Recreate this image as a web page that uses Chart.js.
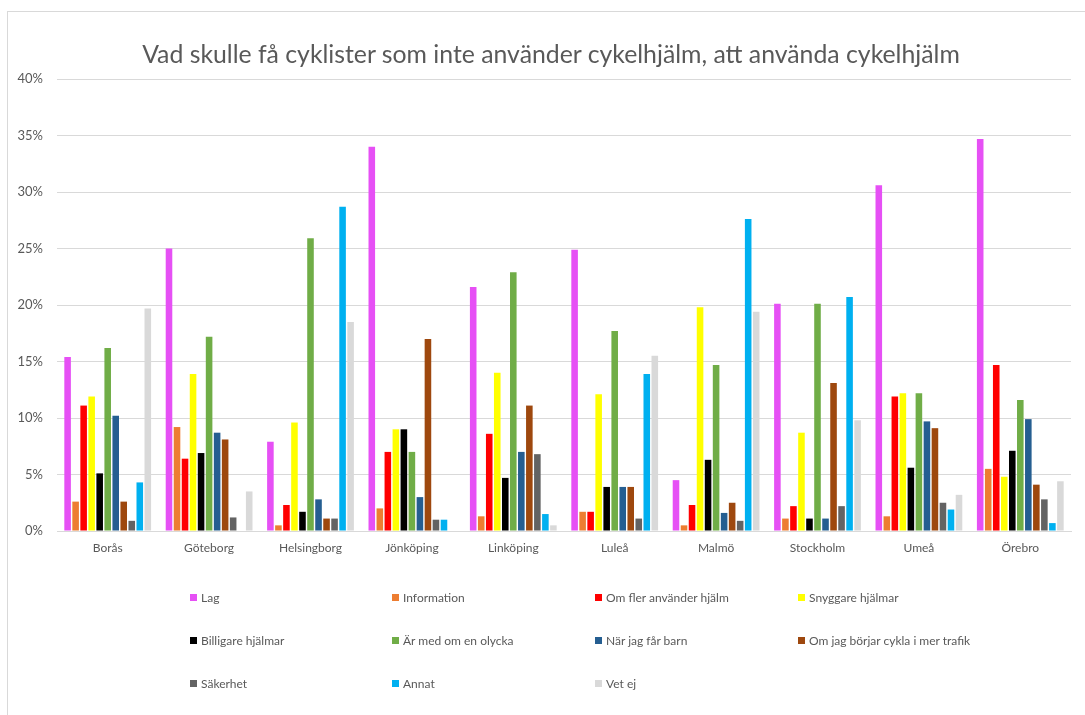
<!DOCTYPE html>
<html>
<head>
<meta charset="utf-8">
<script src="https://cdn.jsdelivr.net/npm/chart.js@4/dist/chart.umd.min.js"></script>
<style>
  html, body { margin: 0; padding: 0; background: #fff; }
  #wrap { position: relative; width: 1085px; height: 715px; overflow: hidden; }
  #frame { position: absolute; left: 7px; top: 11px; width: 1090px; height: 720px;
           border-top: 1px solid #d9d9d9; border-left: 1px solid #d9d9d9; }
  #c { position: absolute; left: 0; top: 0; }
  #title { position: absolute; left: 0; top: 39px; width: 1102px; text-align: center;
           font-family: Lato, "Liberation Sans", sans-serif; font-size: 24.8px; line-height: 30px;
           color: #595959; white-space: nowrap; }
  #legend { position: absolute; left: 0; top: 0; width: 1085px; height: 715px; pointer-events: none;
            font-family: Lato, "Liberation Sans", sans-serif; font-size: 12px; color: #595959; }
  .li { position: absolute; white-space: nowrap; display: flex; align-items: center; height: 14px; }
  .sw { width: 7px; height: 7px; margin-right: 4px; display: inline-block; }
</style>
</head>
<body>
<div id="wrap">
  <div id="frame"></div>
  <canvas id="c" width="1085" height="715"></canvas>
  <div id="title"></div>
  <div id="legend"></div>
</div>
<script>
const titleText = "Vad skulle få cyklister som inte använder cykelhjälm, att använda cykelhjälm";
const cities = ["Borås", "Göteborg", "Helsingborg", "Jönköping", "Linköping", "Luleå", "Malmö", "Stockholm", "Umeå", "Örebro"];
const yTicks = [0, 5, 10, 15, 20, 25, 30, 35, 40];

const seriesNames = ["Lag", "Information", "Om fler använder hjälm", "Snyggare hjälmar",
  "Billigare hjälmar", "Är med om en olycka", "När jag får barn", "Om jag börjar cykla i mer trafik",
  "Säkerhet", "Annat", "Vet ej"];
const seriesColors = ["#E650F5", "#ED7D31", "#FF0000", "#FFFF00", "#000000", "#70AD47",
  "#255E91", "#9E480E", "#636363", "#00B0F0", "#D9D9D9"];

// values per series, in city order
const lag          = [15.4, 25.0, 7.9, 34.0, 21.6, 24.9, 4.5, 20.1, 30.6, 34.7];
const information  = [2.6, 9.2, 0.5, 2.0, 1.3, 1.7, 0.5, 1.1, 1.3, 5.5];
const omFler       = [11.1, 6.4, 2.3, 7.0, 8.6, 1.7, 2.3, 2.2, 11.9, 14.7];
const snyggare     = [11.9, 13.9, 9.6, 9.0, 14.0, 12.1, 19.8, 8.7, 12.2, 4.8];
const billigare    = [5.1, 6.9, 1.7, 9.0, 4.7, 3.9, 6.3, 1.1, 5.6, 7.1];
const arMed        = [16.2, 17.2, 25.9, 7.0, 22.9, 17.7, 14.7, 20.1, 12.2, 11.6];
const narBarn      = [10.2, 8.7, 2.8, 3.0, 7.0, 3.9, 1.6, 1.1, 9.7, 9.9];
const merTrafik    = [2.6, 8.1, 1.1, 17.0, 11.1, 3.9, 2.5, 13.1, 9.1, 4.1];
const sakerhet     = [0.9, 1.2, 1.1, 1.0, 6.8, 1.1, 0.9, 2.2, 2.5, 2.8];
const annat        = [4.3, 0, 28.7, 1.0, 1.5, 13.9, 27.6, 20.7, 1.9, 0.7];
const vetEj        = [19.7, 3.5, 18.5, 0, 0.5, 15.5, 19.4, 9.8, 3.2, 4.4];

const seriesValues = [lag, information, omFler, snyggare, billigare, arMed, narBarn, merTrafik, sakerhet, annat, vetEj];

const FONT = "Lato, 'Liberation Sans', sans-serif";
const GREY = "#595959";

document.getElementById('title').textContent = titleText;

const datasets = seriesNames.map((n, i) => ({
  label: n,
  data: seriesValues[i],
  backgroundColor: seriesColors[i],
  borderWidth: 0,
  categoryPercentage: 0.87,
  barPercentage: 0.82
}));

new Chart(document.getElementById('c'), {
  type: 'bar',
  data: { labels: cities, datasets },
  options: {
    responsive: false,
    animation: false,
    layout: { padding: { left: 0, right: 14, top: 79, bottom: 0 } },
    plugins: {
      legend: { display: false },
      tooltip: { enabled: false },
      title: { display: false }
    },
    scales: {
      x: {
        grid: { display: false, drawTicks: false },
        border: { display: true, color: '#d9d9d9', width: 1 },
        ticks: { color: GREY, font: { family: FONT, size: 12 }, padding: 10, maxRotation: 0 },
        afterFit: s => { s.height = 184; }
      },
      y: {
        min: 0, max: 40,
        grid: { color: '#d9d9d9', lineWidth: 1, drawTicks: false },
        border: { display: false },
        afterBuildTicks: s => { s.ticks = yTicks.map(v => ({ value: v })); },
        ticks: { color: GREY, font: { family: FONT, size: 13 }, padding: 14,
                 callback: v => v + '%' },
        afterFit: s => { s.width = 57; }
      }
    }
  }
});

// legend grid (4 columns x 3 rows)
const colX = [190, 392, 595, 798];
const rowY = [597, 640, 683];
const lg = document.getElementById('legend');
seriesNames.forEach((n, i) => {
  const d = document.createElement('div');
  d.className = 'li';
  d.style.left = colX[i % 4] + 'px';
  d.style.top = (rowY[Math.floor(i / 4)] - 7) + 'px';
  const sw = document.createElement('span');
  sw.className = 'sw';
  sw.style.background = seriesColors[i];
  d.appendChild(sw);
  d.appendChild(document.createTextNode(n));
  lg.appendChild(d);
});
</script>
</body>
</html>
